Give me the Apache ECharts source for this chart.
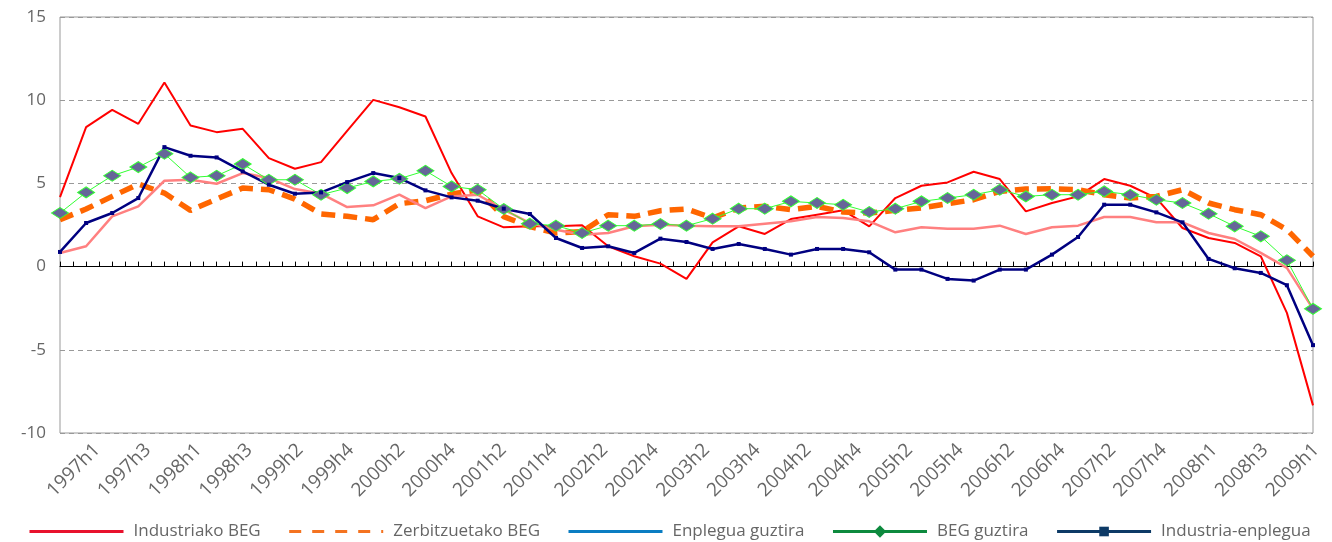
<!DOCTYPE html>
<html>
<head>
<meta charset="utf-8">
<script src="https://cdn.jsdelivr.net/npm/echarts@6/dist/echarts.min.js"></script>
<style>
  html, body { margin: 0; padding: 0; background: #fff; }
  #chart { width: 1332px; height: 542px; }
</style>
</head>
<body>
<div id="chart"></div>
<script>
// tick labels shown under the axis (every second period)
const tickLabels = [
  "1997h1", "1997h3", "1998h1", "1998h3", "1999h2", "1999h4", "2000h2", "2000h4",
  "2001h2", "2001h4", "2002h2", "2002h4", "2003h2", "2003h4", "2004h2", "2004h4",
  "2005h2", "2005h4", "2006h2", "2006h4", "2007h2", "2007h4", "2008h1", "2008h3", "2009h1"
];

// 49 periods, values
const industriakoBeg = [
  4.18, 8.38, 9.42, 8.58, 11.06, 8.48, 8.08, 8.28, 6.52, 5.88,
  6.28, 8.16, 10.02, 9.58, 9.02, 5.62, 3.02, 2.36, 2.42, 2.42,
  2.48, 1.22, 0.62, 0.18, -0.74, 1.46, 2.42, 1.96, 2.86, 3.12,
  3.38, 2.42, 4.12, 4.86, 5.06, 5.7, 5.26, 3.32, 3.82, 4.22,
  5.26, 4.86, 4.12, 2.32, 1.72, 1.42, 0.62, -2.78, -8.34
];
const zerbitzuetakoBeg = [
  2.82, 3.46, 4.22, 4.96, 4.42, 3.38, 4.06, 4.72, 4.62, 4.06,
  3.16, 3.02, 2.82, 3.78, 3.96, 4.36, 4.6, 3.0, 2.4, 2.02,
  2.1, 3.12, 3.02, 3.36, 3.46, 2.92, 3.52, 3.62, 3.42, 3.62,
  3.28, 3.22, 3.38, 3.52, 3.78, 4.02, 4.52, 4.66, 4.68, 4.62,
  4.32, 4.12, 4.22, 4.62, 3.82, 3.42, 3.12, 2.22, 0.62
];
const enpleguaGuztira = [
  0.82, 1.22, 3.02, 3.62, 5.16, 5.22, 4.98, 5.62, 5.32, 4.66,
  4.38, 3.58, 3.68, 4.32, 3.52, 4.22, 4.32, 3.42, 2.62, 2.22,
  1.92, 2.02, 2.42, 2.52, 2.46, 2.42, 2.42, 2.58, 2.72, 2.98,
  2.92, 2.72, 2.06, 2.36, 2.28, 2.28, 2.46, 1.96, 2.36, 2.46,
  2.98, 2.98, 2.66, 2.66, 2.02, 1.66, 0.82, -0.08, -2.54
];
const begGuztira = [
  3.22, 4.46, 5.46, 5.98, 6.78, 5.36, 5.46, 6.16, 5.22, 5.22,
  4.32, 4.72, 5.12, 5.28, 5.76, 4.82, 4.62, 3.46, 2.58, 2.46,
  2.02, 2.46, 2.46, 2.56, 2.46, 2.88, 3.48, 3.48, 3.92, 3.82,
  3.72, 3.28, 3.48, 3.92, 4.12, 4.32, 4.62, 4.22, 4.32, 4.32,
  4.52, 4.32, 4.02, 3.82, 3.18, 2.42, 1.82, 0.38, -2.54
];
const industriaEnplegua = [
  0.88, 2.62, 3.22, 4.12, 7.18, 6.66, 6.56, 5.72, 4.92, 4.38,
  4.46, 5.08, 5.62, 5.32, 4.58, 4.16, 3.96, 3.48, 3.16, 1.72,
  1.12, 1.22, 0.82, 1.68, 1.48, 1.06, 1.36, 1.06, 0.72, 1.06,
  1.06, 0.86, -0.18, -0.18, -0.74, -0.84, -0.18, -0.18, 0.72, 1.78,
  3.72, 3.72, 3.26, 2.66, 0.46, -0.1, -0.38, -1.12, -4.72
];

const font = "'Open Sans', sans-serif";
const pairs = (arr) => arr.map((v, i) => [i, v]);
const noMarker = { color: "rgba(0,0,0,0)", borderColor: "rgba(0,0,0,0)", borderWidth: 0 };

const chart = echarts.init(document.getElementById("chart"));

const option = {
  animation: false,
  backgroundColor: "#fff",
  textStyle: { fontFamily: font },
  grid: [
    { left: 60, right: 19, top: 17, bottom: 109, show: true, borderColor: "#999", borderWidth: 1 },
    // labels are spread a bit differently than the points, so they get their own grid
    { left: 97, right: 16, top: 17, bottom: 109 }
  ],
  xAxis: [
    {
      type: "value",
      gridIndex: 0,
      min: 0,
      max: 48,
      interval: 0.5,
      axisLine: { onZero: true, lineStyle: { color: "#000", width: 1 } },
      axisTick: { show: true, inside: true, length: 5, lineStyle: { color: "#000" } },
      axisLabel: { show: false },
      splitLine: { show: false }
    },
    {
      type: "value",
      gridIndex: 1,
      min: 0,
      max: 24,
      interval: 1,
      axisLine: { show: false },
      axisTick: { show: false },
      splitLine: { show: false },
      axisLabel: {
        rotate: 45,
        margin: 14,
        color: "#666",
        fontSize: 19,
        fontFamily: font,
        formatter: (v) => tickLabels[v] || ""
      }
    }
  ],
  yAxis: [
    {
      type: "value",
      gridIndex: 0,
      min: -10,
      max: 15,
      interval: 5,
      axisLine: { show: false },
      axisTick: { show: false },
      axisLabel: { color: "#666", fontSize: 17, margin: 14, fontFamily: font },
      splitLine: { lineStyle: { color: "#999", type: [5, 4], width: 1 } }
    },
    { type: "value", gridIndex: 1, min: -10, max: 15, show: false }
  ],
  legend: {
    left: 28,
    top: 523,
    padding: 0,
    itemWidth: 94,
    itemHeight: 12,
    itemGap: 27,
    textStyle: { color: "#666", fontSize: 17, fontFamily: font, padding: [0, 0, 0, 5] },
    data: [
      { name: "Industriako BEG", itemStyle: noMarker, lineStyle: { color: "#e8112d", width: 3 } },
      { name: "Zerbitzuetako BEG", itemStyle: noMarker, lineStyle: { color: "#f47320", width: 3, type: [12, 11] } },
      { name: "Enplegua guztira", itemStyle: noMarker, lineStyle: { color: "#0a7dc2", width: 3 } },
      {
        name: "BEG guztira",
        itemStyle: { color: "#0d8a3e", borderColor: "#0d8a3e" },
        lineStyle: { color: "#0d8a3e", width: 3 }
      },
      {
        name: "Industria-enplegua",
        itemStyle: { color: "#0d3a66", borderColor: "#0d3a66" },
        lineStyle: { color: "#0d3a66", width: 3 }
      }
    ]
  },
  series: [
    {
      name: "Industriako BEG",
      type: "line",
      data: pairs(industriakoBeg),
      symbol: "none",
      color: "#ff0000",
      lineStyle: { color: "#ff0000", width: 2 }
    },
    {
      name: "Zerbitzuetako BEG",
      type: "line",
      data: pairs(zerbitzuetakoBeg),
      symbol: "none",
      color: "#ff6600",
      lineStyle: { color: "#ff6600", width: 5.5, type: [14, 8] }
    },
    {
      name: "Enplegua guztira",
      type: "line",
      data: pairs(enpleguaGuztira),
      symbol: "none",
      color: "#ff8080",
      lineStyle: { color: "#ff8080", width: 2.5 }
    },
    {
      name: "BEG guztira",
      type: "line",
      data: pairs(begGuztira),
      symbol: "diamond",
      symbolSize: [17, 11],
      color: "#666699",
      itemStyle: { color: "#666699", borderColor: "#33ff33", borderWidth: 1 },
      lineStyle: { color: "#33ff33", width: 1 }
    },
    {
      name: "Industria-enplegua",
      type: "line",
      data: pairs(industriaEnplegua),
      symbol: "rect",
      symbolSize: 4,
      color: "#000080",
      itemStyle: { color: "#000080" },
      lineStyle: { color: "#000080", width: 2.5 }
    }
  ]
};

chart.setOption(option);
</script>
</body>
</html>
